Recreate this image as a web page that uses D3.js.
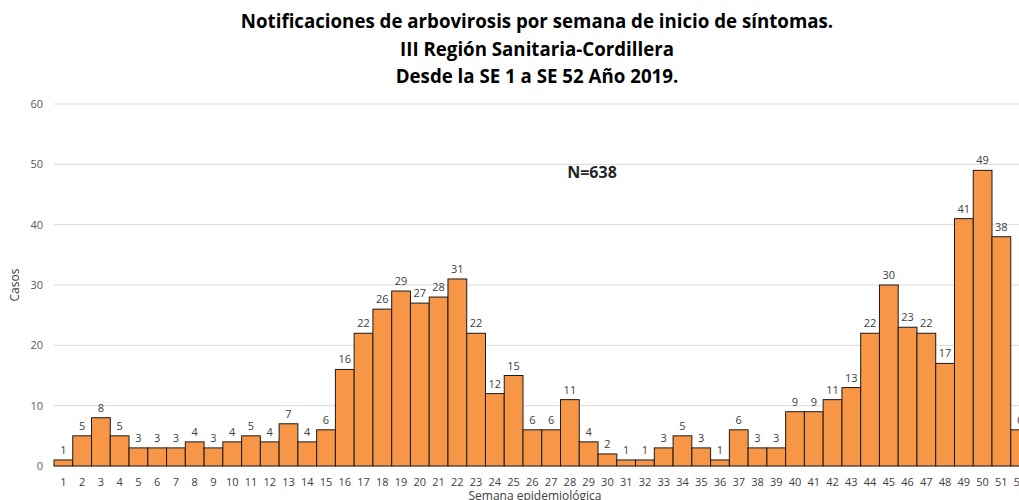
<!DOCTYPE html>
<html>
<head>
<meta charset="utf-8">
<script src="https://cdn.jsdelivr.net/npm/d3@7"></script>
<style>
    body { margin: 0; background: #fff; overflow: hidden; }
    svg { font-family: "Open Sans", "Noto Sans", sans-serif; }
</style>
</head>
<body>
<div id="chart"></div>
<script>
// Semanas epidemiológicas y casos
const weeks = d3.range(1, 53).map(String);
const cases = [1, 5, 8, 5, 3, 3, 3, 4, 3, 4, 5, 4, 7, 4, 6, 16, 22, 26, 29, 27,
    28, 31, 22, 12, 15, 6, 6, 11, 4, 2, 1, 1, 3, 5, 3, 1, 6, 3, 3, 9,
    9, 11, 13, 22, 30, 23, 22, 17, 41, 49, 38, 6];
const yTicks = [0, 10, 20, 30, 40, 50, 60];
const titleLines = [
    "Notificaciones de arbovirosis por semana de inicio de síntomas.",
    "III Región Sanitaria-Cordillera",
    "Desde la SE 1 a SE 52 Año 2019."
];

const W = 1019, H = 500;
const margin = {top: 104, left: 54, bottom: 34};
const plotW = 52 * 18.76;
const plotH = H - margin.top - margin.bottom;

const svg = d3.select("#chart").append("svg")
    .attr("width", W)
    .attr("height", H);

// titulo
svg.append("g").selectAll("text")
    .data(titleLines)
    .enter().append("text")
    .attr("x", 537)
    .attr("y", (d, i) => 28 + i * 27.5)
    .attr("text-anchor", "middle")
    .style("font-size", "18.7px")
    .style("font-weight", "bold")
    .style("fill", "#000")
    .text(d => d);

const g = svg.append("g")
    .attr("transform", "translate(" + margin.left + "," + margin.top + ")");

const x = d3.scaleBand()
    .domain(weeks)
    .range([0, plotW])
    .padding(0);

const y = d3.scaleLinear()
    .domain([0, 60])
    .range([plotH, 0]);

// grid + eje Y
g.append("g")
    .selectAll("line")
    .data(yTicks)
    .enter().append("line")
    .attr("x1", 0)
    .attr("x2", W)
    .attr("y1", d => y(d))
    .attr("y2", d => y(d))
    .style("stroke", d => d === 0 ? "#d0d0d0" : "#d9d9d9")
    .style("stroke-width", 1);

const yAxis = g.append("g")
    .call(d3.axisLeft(y).tickValues(yTicks).tickSize(0).tickPadding(11));
yAxis.select(".domain").remove();
yAxis.selectAll("text")
    .style("font-size", "11px")
    .style("fill", "#595959")
    .style("font-family", "Open Sans, sans-serif");

// barras
g.append("g")
    .selectAll("rect")
    .data(cases)
    .enter().append("rect")
    .attr("x", (d, i) => x(weeks[i]))
    .attr("y", d => y(d))
    .attr("width", x.bandwidth())
    .attr("height", d => plotH - y(d))
    .style("fill", "#F79646")
    .style("stroke", "#1a1a1a")
    .style("stroke-width", 1);

// etiquetas de datos
g.append("g")
    .selectAll("text")
    .data(cases)
    .enter().append("text")
    .attr("x", (d, i) => x(weeks[i]) + x.bandwidth() / 2)
    .attr("y", d => y(d) - 6)
    .attr("text-anchor", "middle")
    .style("font-size", "11px")
    .style("fill", "#404040")
    .text(d => d);

// eje X
const xAxis = g.append("g")
    .attr("transform", "translate(0," + plotH + ")")
    .call(d3.axisBottom(x).tickSize(0).tickPadding(12));
xAxis.select(".domain").remove();
xAxis.selectAll("text")
    .style("font-size", "11px")
    .style("fill", "#404040")
    .style("font-family", "Open Sans, sans-serif");

// titulos de ejes
svg.append("text")
    .attr("transform", "translate(19," + (margin.top + plotH / 2) + ") rotate(-90)")
    .attr("text-anchor", "middle")
    .style("font-size", "12px")
    .style("fill", "#404040")
    .text("Casos");

svg.append("text")
    .attr("x", 535)
    .attr("y", 500)
    .attr("text-anchor", "middle")
    .style("font-size", "12px")
    .style("fill", "#404040")
    .text("Semana epidemiológica");

// N total
svg.append("text")
    .attr("x", 592)
    .attr("y", 178)
    .attr("text-anchor", "middle")
    .style("font-size", "16px")
    .style("font-weight", "bold")
    .style("fill", "#262626")
    .text("N=" + d3.sum(cases));
</script>
</body>
</html>
